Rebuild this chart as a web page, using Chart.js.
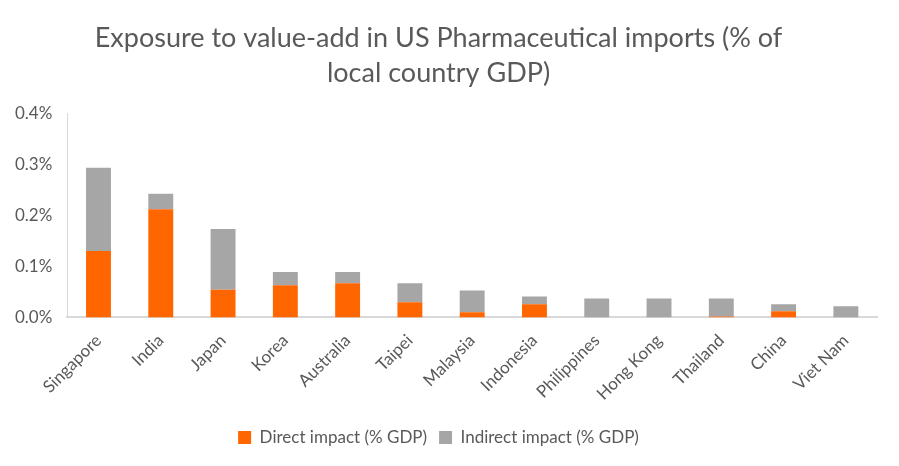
<!DOCTYPE html>
<html>
<head>
<meta charset="utf-8">
<script src="https://cdn.jsdelivr.net/npm/chart.js@4"></script>
<style>
  html, body { margin: 0; padding: 0; background: #fff; }
  #wrap { width: 899px; height: 466px; }
</style>
</head>
<body>
<div id="wrap"><canvas id="chart"></canvas></div>
<script>
// values, in % of GDP
const countries = ['Singapore', 'India', 'Japan', 'Korea', 'Australia', 'Taipei', 'Malaysia',
    'Indonesia', 'Philippines', 'Hong Kong', 'Thailand', 'China', 'Viet Nam'];
const directImpact = [0.130, 0.212, 0.054, 0.063, 0.067, 0.030, 0.010,
    0.026, 0.000, 0.000, 0.002, 0.012, 0.000];
const indirectImpact = [0.163, 0.030, 0.119, 0.026, 0.022, 0.037, 0.043,
    0.015, 0.037, 0.037, 0.035, 0.014, 0.022];
const yTicks = [0, 0.1, 0.2, 0.3, 0.4];

const textGrey = '#595959';
const fontName = 'Lato';

const ctx = document.getElementById('chart').getContext('2d');
new Chart(ctx, {
    type: 'bar',
    data: {
        labels: countries,
        datasets: [
            { label: 'Direct impact (% GDP)', data: directImpact, backgroundColor: '#ff6600',
              categoryPercentage: 0.8, barPercentage: 0.5 },
            { label: 'Indirect impact (% GDP)', data: indirectImpact, backgroundColor: '#a6a6a6',
              categoryPercentage: 0.8, barPercentage: 0.5 }
        ]
    },
    options: {
        responsive: true,
        maintainAspectRatio: false,
        animation: false,
        devicePixelRatio: 1,
        layout: { padding: { left: 0, right: 22, top: 10, bottom: 10 } },
        plugins: {
            title: {
                display: true,
                text: ['Exposure to value-add in US Pharmaceutical imports (% of', 'local country GDP)'],
                color: textGrey,
                font: { family: fontName, size: 27, weight: 'normal', lineHeight: 1.28 },
                padding: { top: 11, bottom: 23 }
            },
            legend: {
                position: 'bottom',
                labels: {
                    color: textGrey,
                    font: { family: fontName, size: 17 },
                    boxWidth: 13,
                    boxHeight: 13,
                    padding: 12
                }
            },
            tooltip: { enabled: false }
        },
        scales: {
            x: {
                stacked: true,
                grid: { display: false, drawTicks: false },
                border: { color: '#d9d9d9', width: 2 },
                ticks: {
                    color: textGrey,
                    font: { family: fontName, size: 17 },
                    minRotation: 45,
                    maxRotation: 45,
                    padding: 13
                }
            },
            y: {
                stacked: true,
                min: 0,
                max: 0.4,
                afterBuildTicks: axis => { axis.ticks = yTicks.map(v => ({ value: v })); },
                grid: { display: false, drawTicks: false },
                border: { color: '#d9d9d9', width: 1 },
                ticks: {
                    color: textGrey,
                    font: { family: fontName, size: 17 },
                    padding: 15,
                    callback: v => v.toFixed(1) + '%'
                }
            }
        }
    }
});
</script>
</body>
</html>
